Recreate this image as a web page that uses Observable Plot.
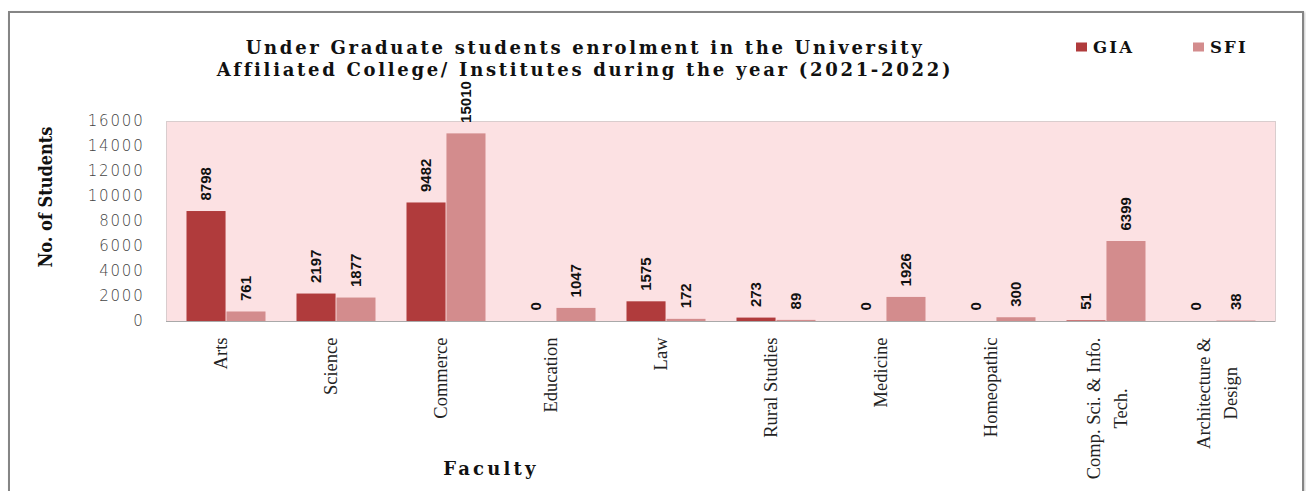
<!DOCTYPE html>
<html>
<head>
<meta charset="utf-8">
<script src="https://cdn.jsdelivr.net/npm/d3@7"></script>
<script src="https://cdn.jsdelivr.net/npm/@observablehq/plot@0.6"></script>
<style>
  body { margin: 0; background: #fff; }
  #wrap { position: relative; width: 1306px; height: 491px; overflow: hidden; background: #fff; }
  #chart { position: absolute; left: 0; top: 0; }
  #border { position: absolute; left: 8px; top: 11px; width: 1292px; height: 520px; border: 2px solid #858585; box-shadow: 1px 1px 2px #c8c8c8; }
  .title { position: absolute; left: 585px; transform: translate(-50%, -50%); white-space: nowrap;
           font-family: "DejaVu Serif", serif; font-weight: bold; font-size: 18px; letter-spacing: 2.7px; color: #111; }
  #ylab { position: absolute; left: 45px; top: 197px; transform: translate(-50%, -50%) rotate(-90deg); white-space: nowrap;
          font-family: "DejaVu Serif", serif; font-stretch: condensed; font-weight: bold; font-size: 18px; color: #111; }
  #xlab { position: absolute; left: 491px; top: 468px; transform: translate(-50%, -50%); white-space: nowrap;
          font-family: "DejaVu Serif", serif; font-weight: bold; font-size: 18px; letter-spacing: 3.2px; color: #111; }
  .leg { position: absolute; top: 47px; transform: translateY(-50%); display: flex; align-items: center; white-space: nowrap;
         font-family: "DejaVu Serif", serif; font-weight: bold; font-size: 16.5px; letter-spacing: 2.2px; color: #111; }
  .sw { width: 11px; height: 9px; margin-right: 6px; }
</style>
</head>
<body>
<div id="wrap">
  <div id="border"></div>
  <div id="chart"></div>
  <div class="title" style="top:47px">Under Graduate students enrolment in the University</div>
  <div class="title" style="top:69px">Affiliated College/ Institutes during the year (2021-2022)</div>
  <div id="ylab">No. of Students</div>
  <div id="xlab">Faculty</div>
  <div id="legend"></div>
</div>
<script>
// ---- data ----
const categories = ["Arts", "Science", "Commerce", "Education", "Law", "Rural Studies", "Medicine", "Homeopathic", "Comp. Sci. & Info.\nTech.", "Architecture &\nDesign"];
const seriesNames = ["GIA", "SFI"];
const giaValues = [8798, 2197, 9482, 0, 1575, 273, 0, 0, 51, 0];
const sfiValues = [761, 1877, 15010, 1047, 172, 89, 1926, 300, 6399, 38];
const yTicks = [0, 2000, 4000, 6000, 8000, 10000, 12000, 14000, 16000];

// ---- styles ----
const colors = {GIA: "#b03b3c", SFI: "#d38c8d"};
const W = 1306, H = 491;
const mL = 166, mR = 31, mT = 121, mB = 170;
const bw = (W - mL - mR) / categories.length;
const catFont = "'Liberation Serif', serif";
const catSize = 18.5;

const rows = [];
categories.forEach((c, i) => {
  rows.push({cat: c, series: "GIA", value: giaValues[i]});
  rows.push({cat: c, series: "SFI", value: sfiValues[i]});
});
const gia = rows.filter(d => d.series === "GIA");
const sfi = rows.filter(d => d.series === "SFI");

const outer = 15.5, inner = bw / 2;
const valueText = (data, dx) => Plot.text(data, {
  x: "cat", y: "value", text: d => String(d.value), rotate: -90, textAnchor: "start",
  dx, dy: -11, fontWeight: "bold", fontSize: 15, fontFamily: "'Liberation Sans', Arial, sans-serif", fill: "#111"
});

// category labels
const single = categories.filter(c => !c.includes("\n"));
const multi = categories.filter(c => c.includes("\n"));
const ctx = document.createElement("canvas").getContext("2d");
ctx.font = `${catSize}px 'Liberation Serif'`;
const labelPad = 16;
const catMarks = [
  Plot.text(single, {x: d => d, text: d => d, frameAnchor: "bottom", rotate: -90, textAnchor: "end",
    dy: labelPad, fontSize: catSize, fontFamily: catFont, fill: "#222"}),
  Plot.text(multi, {x: d => d, text: d => d.split("\n")[0], frameAnchor: "bottom", rotate: -90, textAnchor: "end",
    dy: labelPad, dx: -7, fontSize: catSize, fontFamily: catFont, fill: "#222"}),
  ...multi.map(c => {
    const [l1, l2] = c.split("\n");
    const w1 = ctx.measureText(l1).width;
    return Plot.text([c], {x: d => d, text: () => l2, frameAnchor: "bottom", rotate: -90, textAnchor: "middle",
      dy: labelPad + w1 / 2, dx: 20, fontSize: catSize, fontFamily: catFont, fill: "#222"});
  })
];

const chart = Plot.plot({
  width: W, height: H,
  marginLeft: mL, marginRight: mR, marginTop: mT, marginBottom: mB,
  style: {background: "transparent", overflow: "visible"},
  x: {type: "band", domain: categories, padding: 0, axis: null},
  y: {domain: [0, 16000], axis: null},
  marks: [
    Plot.frame({fill: "#fce1e3", stroke: "#d9cdce"}),
    Plot.barY(gia, {x: "cat", y: "value", fill: colors.GIA, insetLeft: outer, insetRight: inner}),
    Plot.barY(sfi, {x: "cat", y: "value", fill: colors.SFI, insetLeft: inner, insetRight: outer}),
    Plot.ruleY([0], {stroke: "#a9a9a9"}),
    valueText(gia, -(inner - outer) / 2),
    valueText(sfi, (inner - outer) / 2),
    Plot.axisY({ticks: yTicks, tickSize: 0, tickPadding: 22, label: null, fontSize: 15,
      fontFamily: "'DejaVu Sans', sans-serif", fill: "#444", tickFormat: d => String(d)}),
    ...catMarks
  ]
});
document.getElementById("chart").appendChild(chart);
d3.select(chart).selectAll('g[aria-label="y-axis tick label"] text').attr("letter-spacing", "1.8px").attr("font-weight", 300);

// legend
const leg = document.getElementById("legend");
const legPos = {GIA: 1076, SFI: 1193};
seriesNames.forEach(s => {
  const item = document.createElement("div");
  item.className = "leg";
  item.style.left = legPos[s] + "px";
  item.innerHTML = `<div class="sw" style="background:${colors[s]}"></div><span>${s}</span>`;
  leg.appendChild(item);
});
</script>
</body>
</html>
